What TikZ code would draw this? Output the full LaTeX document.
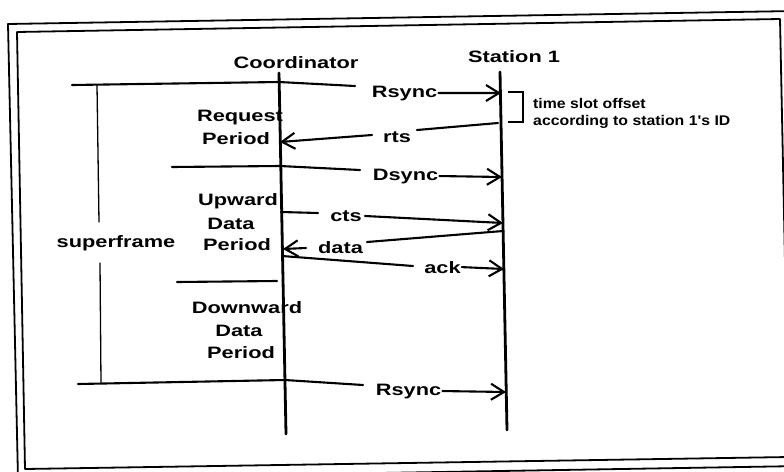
\documentclass[tikz,border=0pt]{standalone}
\usepackage{fontspec}
\setmainfont{Liberation Sans}
\newfontfamily\scanfont[FakeStretch=1.32]{Liberation Sans}
\newfontfamily\notefont[FakeStretch=1.13]{Liberation Sans}
\usetikzlibrary{arrows.meta,calc}

\begin{document}
\begin{tikzpicture}[x=1pt,y=-1pt,>={Straight Barb[length=13pt,width=16pt]},line cap=round,line join=round]
\useasboundingbox (0,0) rectangle (784,471);
\path[fill=white] (0,0) rectangle (784,471);
\clip (0,0) rectangle (784,471);
\tikzset{frame/.style={draw=black,line width=1.8pt},life/.style={draw=black,line width=2.8pt},msg/.style={draw=black,line width=2.1pt},bar/.style={draw=black,line width=1.3pt},lbl/.style={inner sep=1pt,font=\scanfont\bfseries\fontsize{16.5}{20}\selectfont},note/.style={inner sep=0pt,font=\notefont\bfseries\fontsize{14}{16}\selectfont}}
% double frame
\draw[frame] (8,24) -- (795,11) -- (802,466) -- (18,479) -- cycle;
\draw[frame] (17,32) -- (780,19) -- (789,457) -- (25,469) -- cycle;
% headers and period labels
\node[lbl,anchor=base] (coord) at (296,68) {Coordinator};
\node[lbl,anchor=base] (stat) at (514,62) {Station 1};
\node[lbl,anchor=base] (reqA) at (240,121) {Request};
\node[lbl,anchor=base] (reqB) at (236,144) {Period};
\node[lbl,anchor=base] (upA) at (238,205) {Upward};
\node[lbl,anchor=base] (upB) at (231,229) {Data};
\node[lbl,anchor=base] (upC) at (237,250) {Period};
\node[lbl,anchor=base] (downA) at (247,313) {Downward};
\node[lbl,anchor=base] (downB) at (239,336) {Data};
\node[lbl,anchor=base] (downC) at (241,358) {Period};
\node[lbl,anchor=base] (superframe) at (116,247) {superframe};
% lifelines
\coordinate (coTop) at (279,73); \coordinate (coBot) at (286,434);
\coordinate (stTop) at (500,72); \coordinate (stBot) at (507,430);
\draw[life] (coTop) -- (coBot);
\draw[life] (stTop) -- (stBot);
% superframe span
\coordinate (sfA) at (97,85); \coordinate (sfB) at (99,222);
\coordinate (sfC) at (100,263); \coordinate (sfD) at (101,383);
\draw[bar] (sfA) -- (sfB); \draw[bar] (sfC) -- (sfD);
% Rsync (start of superframe)
\coordinate (rsA) at (72,85); \coordinate (rsB) at (279,82); \coordinate (rsC) at (355,86); \coordinate (rsD) at (501,93);
\node[lbl,anchor=base] (rsyncA) at (404.5,97) {Rsync};
\draw[msg] (rsA) -- (rsB) -- (rsC);
\draw[msg,->] (rsyncA.east) -- (rsD);
% slot offset bracket
\coordinate (brA) at (508,92); \coordinate (brB) at (523,92); \coordinate (brC) at (523,122); \coordinate (brD) at (508,122);
\draw[msg,line cap=butt,line join=miter] (brA) -- (brB) -- (brC) -- (brD);
\node[note,anchor=base west] (slotA) at (533,108) {time slot offset};
\node[note,anchor=base west] (slotB) at (533,125) {according to station 1's ID};
% rts
\coordinate (rtA) at (498,123); \coordinate (rtB) at (417,130); \coordinate (rtC) at (372,135); \coordinate (rtD) at (280,142);
\node[lbl,anchor=base] (rts) at (397,142) {rts};
\draw[msg] (rtA) -- (rtB);
\draw[msg,->] (rtC) -- (rtD);
% Dsync
\coordinate (dsA) at (172,167); \coordinate (dsB) at (280,166); \coordinate (dsC) at (360,170); \coordinate (dsD) at (502,177);
\node[lbl,anchor=base] (dsync) at (405.5,180) {Dsync};
\draw[msg] (dsA) -- (dsB) -- (dsC);
\draw[msg,->] (dsync.east) -- (dsD);
% cts
\coordinate (ctA) at (281,212); \coordinate (ctB) at (318,213); \coordinate (ctC) at (365,216); \coordinate (ctD) at (503,223);
\node[lbl,anchor=base] (cts) at (346,221) {cts};
\draw[msg] (ctA) -- (ctB);
\draw[msg,->] (ctC) -- (ctD);
% data
\coordinate (daA) at (503,231); \coordinate (daB) at (367,242); \coordinate (daC) at (306,248); \coordinate (daD) at (283,249);
\node[lbl,anchor=base] (data) at (340.5,253) {data};
\draw[msg] (daA) -- (daB);
\draw[msg,->] (daC) -- (daD);
% ack
\coordinate (akA) at (282,256); \coordinate (akB) at (413,266); \coordinate (akD) at (504,269);
\node[lbl,anchor=base] (ack) at (442.5,273) {ack};
\draw[msg] (akA) -- (akB);
\draw[msg,->] (ack.east) -- (akD);
% start of downward period
\coordinate (dwA) at (177,282); \coordinate (dwB) at (277,281);
\draw[msg] (dwA) -- (dwB);
% Rsync (next superframe)
\coordinate (rnA) at (78,384); \coordinate (rnB) at (285,380); \coordinate (rnC) at (363,385); \coordinate (rnD) at (506,392);
\node[lbl,anchor=base] (rsyncB) at (408.5,395) {Rsync};
\draw[msg] (rnA) -- (rnB) -- (rnC);
\draw[msg,->] (rsyncB.east) -- (rnD);
\end{tikzpicture}
\end{document}
